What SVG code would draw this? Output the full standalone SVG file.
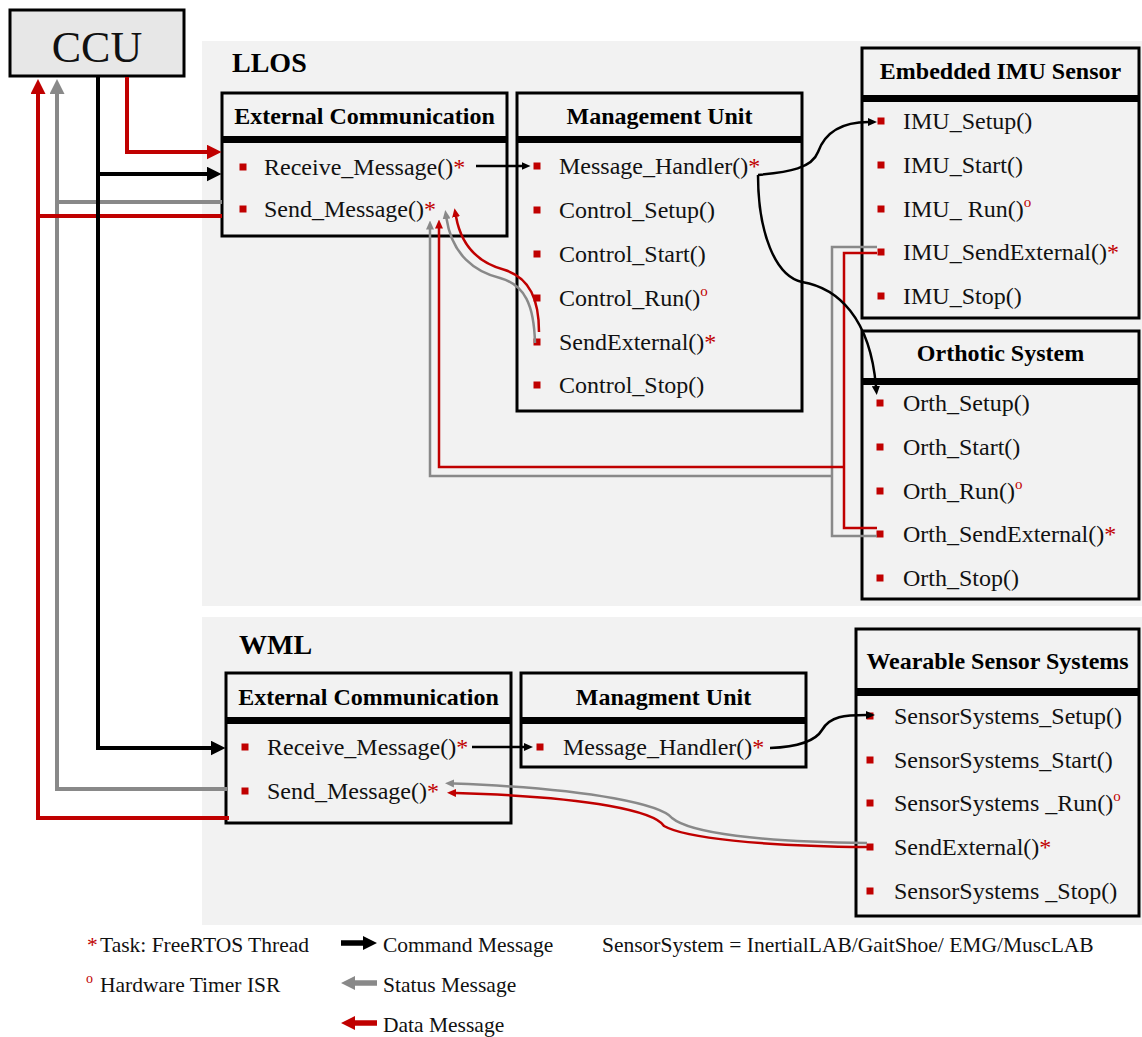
<svg xmlns="http://www.w3.org/2000/svg" width="1142" height="1037" viewBox="0 0 1142 1037">
  <style>
    .bg { fill: #f2f2f2; }
    .box { fill: #f2f2f2; stroke: #000; stroke-width: 3; }
    .ccu { fill: #e7e7e7; stroke: #000; stroke-width: 3; }
    .bar { fill: #000; }
    .serif { font-family: "Liberation Serif", "Times New Roman", serif; }
    .title { font-family: "Liberation Serif", "Times New Roman", serif; font-weight: bold; font-size: 24px; text-anchor: middle; fill: #000; }
    .region { font-family: "Liberation Serif", "Times New Roman", serif; font-weight: bold; font-size: 28px; fill: #000; }
    .item { font-family: "Liberation Serif", "Times New Roman", serif; font-size: 24px; fill: #111; }
    .legend { font-family: "Liberation Serif", "Times New Roman", serif; font-size: 21.5px; fill: #111; }
    .mark { fill: #c00000; }
    .red { fill: #c00000; }
    .sup { font-size: 15px; }
    .wk { fill: none; stroke: #000; stroke-width: 4; }
    .wg { fill: none; stroke: #898989; stroke-width: 4; }
    .wr { fill: none; stroke: #c00000; stroke-width: 4; }
    .tk { fill: none; stroke: #000; stroke-width: 2.5; }
    .tg { fill: none; stroke: #898989; stroke-width: 2.5; }
    .tr { fill: none; stroke: #c00000; stroke-width: 2.5; }
  </style>
  <defs>
    <marker id="bigK" markerUnits="userSpaceOnUse" markerWidth="15" markerHeight="15" viewBox="0 0 15 15" refX="0.5" refY="7.5" orient="auto"><path d="M0,0 L15,7.5 L0,15 z" fill="#000"/></marker>
    <marker id="bigG" markerUnits="userSpaceOnUse" markerWidth="15" markerHeight="15" viewBox="0 0 15 15" refX="0.5" refY="7.5" orient="auto"><path d="M0,0 L15,7.5 L0,15 z" fill="#898989"/></marker>
    <marker id="bigR" markerUnits="userSpaceOnUse" markerWidth="15" markerHeight="15" viewBox="0 0 15 15" refX="0.5" refY="7.5" orient="auto"><path d="M0,0 L15,7.5 L0,15 z" fill="#c00000"/></marker>
    <marker id="smK" markerUnits="userSpaceOnUse" markerWidth="9" markerHeight="8" viewBox="0 0 9 8" refX="0.5" refY="4" orient="auto"><path d="M0,0 L9,4 L0,8 z" fill="#000"/></marker>
    <marker id="smG" markerUnits="userSpaceOnUse" markerWidth="9" markerHeight="8" viewBox="0 0 9 8" refX="0.5" refY="4" orient="auto"><path d="M0,0 L9,4 L0,8 z" fill="#898989"/></marker>
    <marker id="smR" markerUnits="userSpaceOnUse" markerWidth="9" markerHeight="8" viewBox="0 0 9 8" refX="0.5" refY="4" orient="auto"><path d="M0,0 L9,4 L0,8 z" fill="#c00000"/></marker>
    <!-- block arrow used in the legend, pointing right, tip at x=36 -->
    <path id="legArrow" d="M0,-2.8 H22 V-7 L36,0 L22,7 V2.8 H0 z"/>
  </defs>

  <!-- layer backgrounds -->
  <rect class="bg" x="202" y="41" width="940" height="565"/>
  <rect class="bg" x="202" y="617" width="940" height="308"/>
  <text class="region" x="232" y="72">LLOS</text>
  <text class="region" x="239" y="654">WML</text>

  <!-- central control unit -->
  <g id="ccu">
    <rect class="ccu" x="10" y="10" width="174" height="66"/>
    <text class="serif" x="97" y="62" font-size="44" text-anchor="middle" fill="#111">CCU</text>
  </g>

  <!-- LLOS: external communication -->
  <g id="llos-extcomm">
    <rect class="box" x="222" y="93" width="285" height="143"/>
    <rect class="bar" x="222" y="136" width="285" height="7"/>
    <text class="title" x="364.5" y="124">External Communication</text>
    <rect class="mark" x="239.5" y="163.5" width="7" height="7"/>
    <text class="item" x="264" y="175">Receive_Message()<tspan class="red">*</tspan></text>
    <rect class="mark" x="239.5" y="205.5" width="7" height="7"/>
    <text class="item" x="264" y="217">Send_Message()<tspan class="red">*</tspan></text>
  </g>

  <!-- LLOS: management unit -->
  <g id="llos-mgmt">
    <rect class="box" x="517" y="93" width="285" height="318"/>
    <rect class="bar" x="517" y="136" width="285" height="7"/>
    <text class="title" x="659.5" y="124">Management Unit</text>
    <rect class="mark" x="533.5" y="162.5" width="7" height="7"/>
    <text class="item" x="559" y="174">Message_Handler()<tspan class="red">*</tspan></text>
    <rect class="mark" x="533.5" y="206.5" width="7" height="7"/>
    <text class="item" x="559" y="218">Control_Setup()</text>
    <rect class="mark" x="533.5" y="250.5" width="7" height="7"/>
    <text class="item" x="559" y="262">Control_Start()</text>
    <rect class="mark" x="533.5" y="294.5" width="7" height="7"/>
    <text class="item" x="559" y="306">Control_Run()<tspan class="red sup" dy="-10">o</tspan></text>
    <rect class="mark" x="533.5" y="338.5" width="7" height="7"/>
    <text class="item" x="559" y="350">SendExternal()<tspan class="red">*</tspan></text>
    <rect class="mark" x="533.5" y="381.5" width="7" height="7"/>
    <text class="item" x="559" y="393">Control_Stop()</text>
  </g>

  <!-- LLOS: embedded IMU sensor -->
  <g id="llos-imu">
    <rect class="box" x="862" y="48" width="277" height="270"/>
    <rect class="bar" x="862" y="95" width="277" height="7"/>
    <text class="title" x="1000.5" y="79">Embedded IMU Sensor</text>
    <rect class="mark" x="877.5" y="117.5" width="7" height="7"/>
    <text class="item" x="903" y="129">IMU_Setup()</text>
    <rect class="mark" x="877.5" y="161.5" width="7" height="7"/>
    <text class="item" x="903" y="173">IMU_Start()</text>
    <rect class="mark" x="877.5" y="205.5" width="7" height="7"/>
    <text class="item" x="903" y="217">IMU_ Run()<tspan class="red sup" dy="-10">o</tspan></text>
    <rect class="mark" x="877.5" y="248.5" width="7" height="7"/>
    <text class="item" x="903" y="260">IMU_SendExternal()<tspan class="red">*</tspan></text>
    <rect class="mark" x="877.5" y="292.5" width="7" height="7"/>
    <text class="item" x="903" y="304">IMU_Stop()</text>
  </g>

  <!-- LLOS: orthotic system -->
  <g id="llos-orth">
    <rect class="box" x="862" y="331" width="277" height="268"/>
    <rect class="bar" x="862" y="378" width="277" height="7"/>
    <text class="title" x="1000.5" y="361">Orthotic System</text>
    <rect class="mark" x="876.5" y="399.5" width="7" height="7"/>
    <text class="item" x="903" y="411">Orth_Setup()</text>
    <rect class="mark" x="876.5" y="443.5" width="7" height="7"/>
    <text class="item" x="903" y="455">Orth_Start()</text>
    <rect class="mark" x="876.5" y="487.5" width="7" height="7"/>
    <text class="item" x="903" y="499">Orth_Run()<tspan class="red sup" dy="-10">o</tspan></text>
    <rect class="mark" x="876.5" y="530.5" width="7" height="7"/>
    <text class="item" x="903" y="542">Orth_SendExternal()<tspan class="red">*</tspan></text>
    <rect class="mark" x="876.5" y="574.5" width="7" height="7"/>
    <text class="item" x="903" y="586">Orth_Stop()</text>
  </g>

  <!-- WML: external communication -->
  <g id="wml-extcomm">
    <rect class="box" x="226" y="673" width="285" height="150"/>
    <rect class="bar" x="226" y="717" width="285" height="7"/>
    <text class="title" x="368.5" y="705">External Communication</text>
    <rect class="mark" x="241.5" y="743.5" width="7" height="7"/>
    <text class="item" x="267" y="755">Receive_Message()<tspan class="red">*</tspan></text>
    <rect class="mark" x="241.5" y="787.5" width="7" height="7"/>
    <text class="item" x="267" y="799">Send_Message()<tspan class="red">*</tspan></text>
  </g>

  <!-- WML: management unit -->
  <g id="wml-mgmt">
    <rect class="box" x="521" y="673" width="285" height="94"/>
    <rect class="bar" x="521" y="717" width="285" height="7"/>
    <text class="title" x="663.5" y="705">Managment Unit</text>
    <rect class="mark" x="536.5" y="743.5" width="7" height="7"/>
    <text class="item" x="563" y="755">Message_Handler()<tspan class="red">*</tspan></text>
  </g>

  <!-- WML: wearable sensor systems -->
  <g id="wml-sensors">
    <rect class="box" x="856" y="629" width="283" height="287"/>
    <rect class="bar" x="856" y="688" width="283" height="8"/>
    <text class="title" x="997.5" y="669">Wearable Sensor Systems</text>
    <rect class="mark" x="866.5" y="712.5" width="7" height="7"/>
    <text class="item" x="894" y="724">SensorSystems_Setup()</text>
    <rect class="mark" x="866.5" y="756.5" width="7" height="7"/>
    <text class="item" x="894" y="768">SensorSystems_Start()</text>
    <rect class="mark" x="866.5" y="799.5" width="7" height="7"/>
    <text class="item" x="894" y="811">SensorSystems _Run()<tspan class="red sup" dy="-10">o</tspan></text>
    <rect class="mark" x="866.5" y="843.5" width="7" height="7"/>
    <text class="item" x="894" y="855">SendExternal()<tspan class="red">*</tspan></text>
    <rect class="mark" x="866.5" y="887.5" width="7" height="7"/>
    <text class="item" x="894" y="899">SensorSystems _Stop()</text>
  </g>

  <!-- message connectors -->
  <g id="connectors">
    <!-- CCU trunk lines -->
    <path class="wg" d="M227,789 H57 V93.5" marker-end="url(#bigG)"/>
    <path class="wg" d="M222,202 H57"/>
    <path class="wr" d="M229,818 H38 V93.5" marker-end="url(#bigR)"/>
    <path class="wr" d="M222,216 H38"/>
    <path class="wk" d="M98,77 V748 H211" marker-end="url(#bigK)"/>
    <path class="wk" d="M98,174 H207" marker-end="url(#bigK)"/>
    <path class="wr" d="M127,77 V152 H207" marker-end="url(#bigR)"/>

    <!-- LLOS status / data bus from IMU and orthotic system -->
    <path class="tg" d="M877,247 H832 V536 H877"/>
    <path class="tg" d="M832,476 H430 V229" marker-end="url(#smG)"/>
    <path class="tr" d="M877,253 H844 V528 H877"/>
    <path class="tr" d="M844,467 H439 V228" marker-end="url(#smR)"/>

    <!-- LLOS management unit SendExternal back to Send_Message -->
    <path class="tg" d="M535,343 C534,305 525,285 500,278 C475,272 452,255 446.5,218.5" marker-end="url(#smG)"/>
    <path class="tr" d="M539,332 C539,300 530,278 505,270 C482,264 462,250 456,216.5" marker-end="url(#smR)"/>

    <!-- LLOS commands -->
    <path class="tk" d="M476,166 H522" marker-end="url(#smK)"/>
    <path class="tk" d="M758,175 C790,172 812,168 818,152 C826,130 845,122 868.5,122" marker-end="url(#smK)"/>
    <path class="tk" d="M758,175 C758,232 775,276 802,282 C838,288 870,318 876,386.5" marker-end="url(#smK)"/>

    <!-- WML -->
    <path class="tk" d="M472,747 H524.5" marker-end="url(#smK)"/>
    <path class="tk" d="M770,748 C795,747 815,742 822,730 C830,716 845,715 866.5,715" marker-end="url(#smK)"/>
    <path class="tg" d="M867,843 C760,842 690,833 672,818 C662,806 600,789 453.5,783.5" marker-end="url(#smG)"/>
    <path class="tr" d="M867,847 C760,846 685,838 664,826 C655,812 595,797 455.5,793" marker-end="url(#smR)"/>
  </g>

  <!-- legend -->
  <g id="legend">
    <text class="legend" x="87" y="952"><tspan class="red">*</tspan></text>
    <text class="legend" x="100" y="952">Task: FreeRTOS Thread</text>
    <text class="legend" x="86" y="983"><tspan class="red" font-size="14">o</tspan></text>
    <text class="legend" x="100" y="992">Hardware Timer ISR</text>
    <use href="#legArrow" transform="translate(341,943)" fill="#000"/>
    <text class="legend" x="383" y="952">Command Message</text>
    <use href="#legArrow" transform="translate(377,983) scale(-1,1)" fill="#898989"/>
    <text class="legend" x="383" y="992">Status Message</text>
    <use href="#legArrow" transform="translate(377,1023) scale(-1,1)" fill="#c00000"/>
    <text class="legend" x="383" y="1032">Data Message</text>
    <text class="legend" x="602" y="952">SensorSystem = InertialLAB/GaitShoe/ EMG/MuscLAB</text>
  </g>
</svg>
